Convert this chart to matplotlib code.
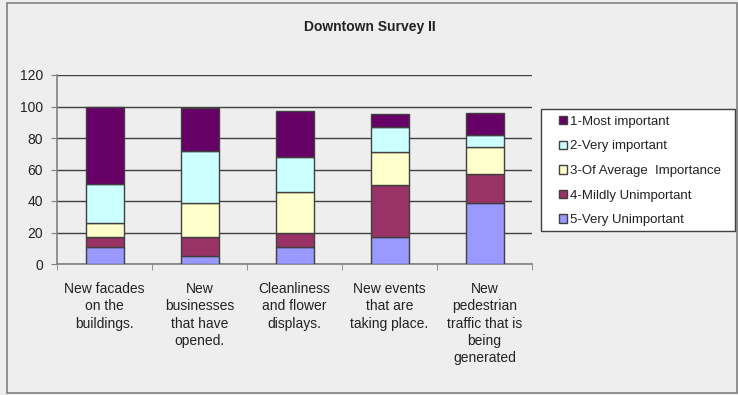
import numpy as np
import matplotlib.pyplot as plt
from matplotlib.patches import Rectangle

plt.rcParams['font.family'] = ['Liberation Sans', 'DejaVu Sans']

categories = ["New facades\non the\nbuildings.",
              "New\nbusinesses\nthat have\nopened.",
              "Cleanliness\nand flower\ndisplays.",
              "New events\nthat are\ntaking place.",
              "New\npedestrian\ntraffic that is\nbeing\ngenerated"]

# stacked from the bottom up
very_unimportant = [11, 5, 11, 17, 39]
mildly_unimportant = [6, 12, 9, 33, 18]
average = [9, 22, 26, 21, 17]
very_important = [25, 33, 22, 16, 8]
most_important = [49, 27, 29, 8, 14]

series = [
    ("5-Very Unimportant", very_unimportant, "#9999FF"),
    ("4-Mildly Unimportant", mildly_unimportant, "#993366"),
    ("3-Of Average  Importance", average, "#FFFFCC"),
    ("2-Very important", very_important, "#CCFFFF"),
    ("1-Most important", most_important, "#660066"),
]

bg = "#EEEEEE"
W, H = 738, 395
fig = plt.figure(figsize=(W / 100, H / 100), dpi=100, facecolor=bg)

# outer chart border
fig.patches.append(Rectangle((7 / W, 2 / H), 730 / W, 390 / H, transform=fig.transFigure,
                             fill=False, edgecolor="#808080", linewidth=1.2))

ax = fig.add_axes([57 / W, (H - 264) / H, 475 / W, (264 - 75) / H], facecolor=bg)

x = np.arange(len(categories))
bottom = np.zeros(len(categories))
handles = {}
for name, vals, color in series:
    b = ax.bar(x, vals, 0.4, bottom=bottom, color=color, edgecolor="#404040",
               linewidth=1.0, label=name, zorder=3)
    handles[name] = b
    bottom += np.array(vals)

ax.set_xlim(-0.5, len(categories) - 0.5)
ax.set_ylim(0, 120)
ax.set_yticks(np.arange(0, 121, 20))
ax.yaxis.grid(True, color="#404040", linewidth=1.0, zorder=0)
ax.tick_params(axis='y', direction='out', length=4, color="#808080", labelsize=10,
               labelcolor="#222222", pad=6)

ax.set_xticks(x)
ax.set_xticklabels(categories, fontsize=10, color="#222222", linespacing=1.3)
ax.set_xticks(np.arange(-0.5, len(categories)), minor=True)
ax.tick_params(axis='x', which='major', length=0, pad=13)
ax.tick_params(axis='x', which='minor', direction='out', length=4, color="#808080")

for s in ["top", "right"]:
    ax.spines[s].set_visible(False)
for s in ["left", "bottom"]:
    ax.spines[s].set_color("#808080")
    ax.spines[s].set_linewidth(1.2)

fig.text(370 / W, 1 - 27 / H, "Downtown Survey II", ha="center", va="center",
         fontsize=10, fontweight="bold", color="#222222")

# legend box
fig.patches.append(Rectangle((541 / W, 1 - 231 / H), 194 / W, 122 / H,
                             transform=fig.transFigure, facecolor="white",
                             edgecolor="#404040", linewidth=1.0, zorder=1))

order = ["1-Most important", "2-Very important", "3-Of Average  Importance",
         "4-Mildly Unimportant", "5-Very Unimportant"]
leg = fig.legend([handles[n] for n in order], order, loc="upper left",
                 bbox_to_anchor=(555 / W, 1 - 112 / H), fontsize=9.5, frameon=False,
                 handlelength=0.6, handleheight=0.6, handletextpad=0.25,
                 labelspacing=0.95, borderpad=0.3, borderaxespad=0,
                 labelcolor="#222222")
leg.set_zorder(2)

fig.savefig("out.png", dpi=100, facecolor=bg)
